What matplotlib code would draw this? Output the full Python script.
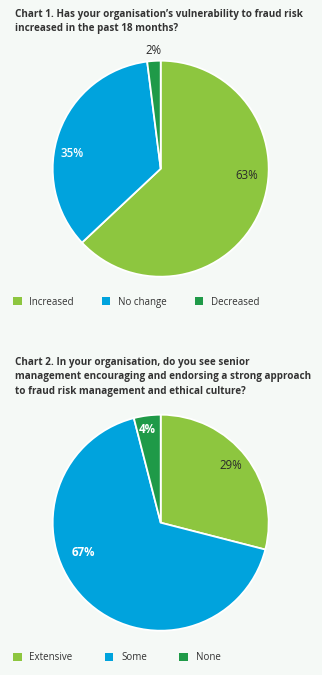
import matplotlib
matplotlib.use("Agg")
import matplotlib.pyplot as plt
from matplotlib.patches import Patch

# chart 1
labels1 = ['Increased', 'No change', 'Decreased']
values1 = [63, 35, 2]
title1 = "Chart 1. Has your organisation\u2019s vulnerability to fraud risk\nincreased in the past 18 months?"

# chart 2
labels2 = ['Extensive', 'Some', 'None']
values2 = [29, 67, 4]
title2 = ("Chart 2. In your organisation, do you see senior\n"
          "management encouraging and endorsing a strong approach\n"
          "to fraud risk management and ethical culture?")

colors = ['#8dc63f', '#00a3dd', '#1f9a48']
bg = '#f5f9f6'
dark = '#2b2b2b'

plt.rcParams['font.family'] = ['Open Sans', 'DejaVu Sans']

fig = plt.figure(figsize=(3.22, 6.75), dpi=100, facecolor=bg)


def draw_pie(rect, values, label_pos, label_style):
    ax = fig.add_axes(rect)
    ax.set_facecolor(bg)
    ax.pie(values, colors=colors, startangle=90, counterclock=False,
           wedgeprops=dict(edgecolor='white', linewidth=1.3))
    ax.set_xlim(-1, 1)
    ax.set_ylim(-1, 1)
    ax.set_aspect('equal')
    ax.axis('off')
    for v, (x, y), (c, w) in zip(values, label_pos, label_style):
        ax.text(x, y, f'{v}%', color=c, fontsize=8.3, fontweight=w,
                ha='center', va='center', clip_on=False)
    return ax


# label positions in pie units (radius = 1)
ax1 = draw_pie([52.7 / 322, 398.3 / 675, 216 / 322, 216 / 675], values1,
               [(0.80, -0.06), (-0.82, 0.14), (-0.07, 1.09)],
               [(dark, 'normal'), ('white', 'semibold'), (dark, 'normal')])
ax2 = draw_pie([52.7 / 322, 44.3 / 675, 216 / 322, 216 / 675], values2,
               [(0.65, 0.53), (-0.72, -0.28), (-0.12, 0.86)],
               [(dark, 'normal'), ('white', 'bold'), ('white', 'bold')])

fig.text(15 / 322, 1 - 9 / 675, title1, ha='left', va='top', fontsize=7.1,
         fontweight='bold', color='#333333', linespacing=1.42)
fig.text(15 / 322, 1 - 357 / 675, title2, ha='left', va='top', fontsize=7.1,
         fontweight='bold', color='#333333', linespacing=1.42)

for labels, y, cs in [(labels1, 302, 2.85), (labels2, 658, 3.3)]:
    handles = [Patch(facecolor=c, edgecolor='none') for c in colors]
    fig.legend(handles, labels, loc='center left', ncol=3,
               bbox_to_anchor=(4 / 322, 1 - y / 675), frameon=False,
               fontsize=7, handlelength=0.9, handleheight=0.9,
               handletextpad=0.8, columnspacing=cs, labelcolor='#333333')

fig.savefig('out.png', dpi=100, facecolor=bg)
